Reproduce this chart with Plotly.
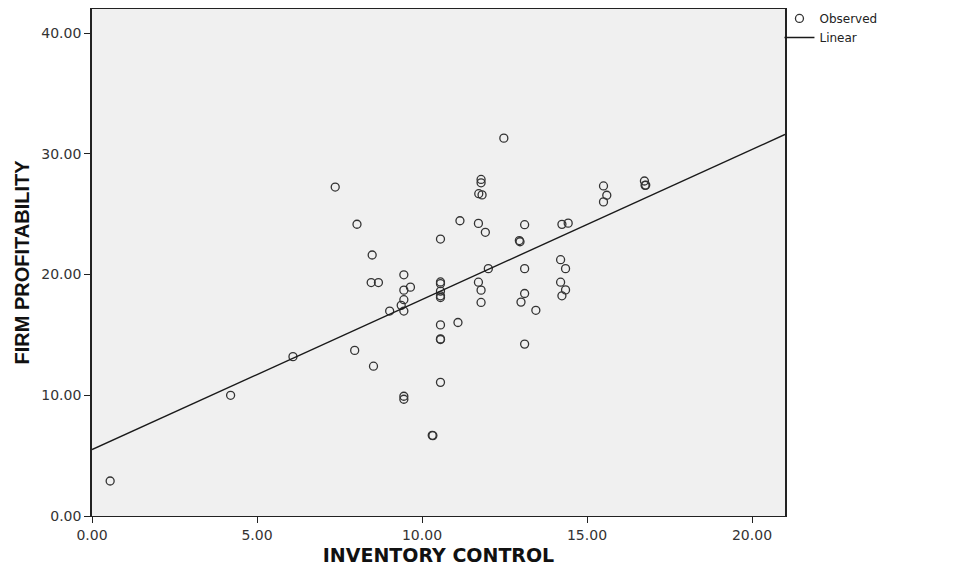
import plotly.graph_objects as go
import numpy as np

inventory_control = [0.55, 4.20, 6.09, 7.37, 7.96, 8.03, 8.49, 8.46, 8.68, 8.53,
                     9.02, 9.45, 9.45, 9.65, 9.45, 9.37, 9.45, 9.45, 9.45, 10.31,
                     10.33, 10.56, 10.56, 10.56, 10.56, 10.56, 10.56, 10.56, 10.56, 10.56,
                     10.56, 11.09, 11.15, 11.79, 11.79, 11.72, 11.82, 11.71, 11.92, 12.01,
                     11.71, 11.79, 11.79, 12.48, 12.95, 12.97, 13.11, 13.11, 13.11, 13.00,
                     13.45, 13.11, 14.20, 14.35, 14.20, 14.35, 14.24, 14.24, 14.43, 15.50,
                     15.60, 15.50, 16.74, 16.76, 16.78]
firm_profitability = [2.9, 10.0, 13.2, 27.25, 13.72, 24.17, 21.62, 19.34, 19.34, 12.41,
                      16.98, 19.98, 18.71, 18.96, 17.92, 17.45, 16.98, 9.92, 9.67, 6.68,
                      6.66, 22.94, 19.39, 19.25, 18.63, 18.24, 18.10, 15.83, 14.67, 14.62,
                      11.07, 16.03, 24.46, 27.88, 27.60, 26.70, 26.60, 24.24, 23.50, 20.49,
                      19.37, 18.71, 17.69, 31.30, 22.82, 22.72, 24.13, 20.49, 18.43, 17.72,
                      17.04, 14.24, 21.23, 20.49, 19.37, 18.73, 18.24, 24.16, 24.26, 27.34,
                      26.57, 26.02, 27.75, 27.39, 27.41]

# Linear fit
fit_intercept = 5.5
fit_slope = 1.243
fit_x_range = [0.0, 21.0]

x_ticks = [0, 5, 10, 15, 20]
y_ticks = [0, 10, 20, 30, 40]

fit_x = np.array(fit_x_range)
fit_y = fit_intercept + fit_slope * fit_x

fig = go.Figure()
fig.add_trace(go.Scatter(
    x=inventory_control, y=firm_profitability, mode="markers", name="Observed",
    marker=dict(symbol="circle-open", size=8, color="#333333", line=dict(width=1.3, color="#333333")),
))
fig.add_trace(go.Scatter(
    x=fit_x, y=fit_y, mode="lines", name="Linear",
    line=dict(color="#1a1a1a", width=1.4),
))

tickfont = dict(family="DejaVu Sans", size=14, color="#333333")
fig.update_layout(
    width=968, height=571,
    margin=dict(l=92, r=183, t=4, b=55),
    paper_bgcolor="white",
    plot_bgcolor="#F0F0F0",
    showlegend=True,
    legend=dict(x=0.992, y=1.01, xanchor="left", yanchor="top",
                font=dict(family="DejaVu Sans", size=12, color="#222222"),
                bgcolor="rgba(0,0,0,0)", itemwidth=30, tracegroupgap=0),
    xaxis=dict(range=[0, 21], tickvals=x_ticks, tickformat=".2f",
               showgrid=False, zeroline=False, showline=True, linecolor="#222222", linewidth=1.2,
               mirror=True, ticks="outside", ticklen=6, tickcolor="#222222", tickwidth=1.2,
               tickfont=tickfont,
               title=dict(text="<b>INVENTORY CONTROL</b>", standoff=6,
                          font=dict(family="DejaVu Sans", size=19, color="#111111"))),
    yaxis=dict(range=[0, 42], tickvals=y_ticks, tickformat=".2f",
               showgrid=False, zeroline=False, showline=True, linecolor="#222222", linewidth=1.6,
               mirror=True, ticks="outside", ticklen=6, tickcolor="#222222", tickwidth=1.2,
               tickfont=tickfont,
               title=dict(text="<b>FIRM PROFITABILITY</b>", standoff=6,
                          font=dict(family="Liberation Sans", size=20, color="#111111"))),
)

fig.write_html("out.html", config={"displayModeBar": False},
               post_script="document.body.style.margin='0';")
